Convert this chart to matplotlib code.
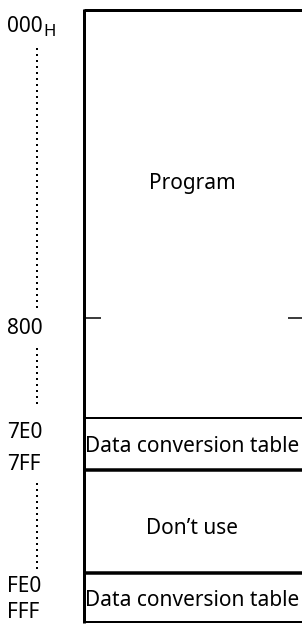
import matplotlib
matplotlib.use("Agg")
import matplotlib.pyplot as plt

plt.rcParams['font.family'] = ['Noto Sans', 'DejaVu Sans']

# memory map content
addr_labels = ['000', '800', '7E0', '7FF', 'FE0', 'FFF']
addr_suffix = 'H'
region_names = ['Program', 'Data conversion table', 'Don\u2019t use', 'Data conversion table']

# layout (pixels, y grows downward)
W, H = 302, 624
box_left = 84
label_y = [27, 329, 432, 464, 586, 613]
region_edges = [10, 418, 470, 573, 622]
edge_widths = [3, 2, 3.5, 3.5, 2]
region_text_y = [183, 446, 529, 600]
dotted_runs = [(48, 308), (348, 404), (483, 570)]
split_y = 318

px = 72 / 100  # points per pixel

fig = plt.figure(figsize=(W / 100, H / 100), dpi=100)
ax = fig.add_axes([0, 0, 1, 1])
ax.set_xlim(0, W)
ax.set_ylim(H, 0)
ax.axis('off')

# box outline
ax.plot([box_left, box_left], [region_edges[0] - 1.5, region_edges[-1] + 1], color='black',
        lw=3 * px, solid_capstyle='butt')
for y, w in zip(region_edges, edge_widths):
    ax.plot([box_left, W], [y, y], color='black', lw=w * px, solid_capstyle='butt')

# split marks at 800
ax.plot([box_left, 101], [split_y, split_y], color='black', lw=1.5 * px, solid_capstyle='butt')
ax.plot([288, W], [split_y, split_y], color='black', lw=1.5 * px, solid_capstyle='butt')

# address labels
for i, (lab, y) in enumerate(zip(addr_labels, label_y)):
    ax.text(7, y, lab, fontsize=15, ha='left', va='center')
ax.text(43, label_y[0] + 5, addr_suffix, fontsize=12, ha='left', va='center')

for y0, y1 in dotted_runs:
    ax.plot([37, 37], [y0, y1], color='black', lw=2 * px, linestyle=(0, (1, 2)),
            dash_capstyle='butt')

# region names
for name, y in zip(region_names, region_text_y):
    ax.text(192, y, name, fontsize=15, ha='center', va='center')

fig.savefig('out.png', dpi=100)
